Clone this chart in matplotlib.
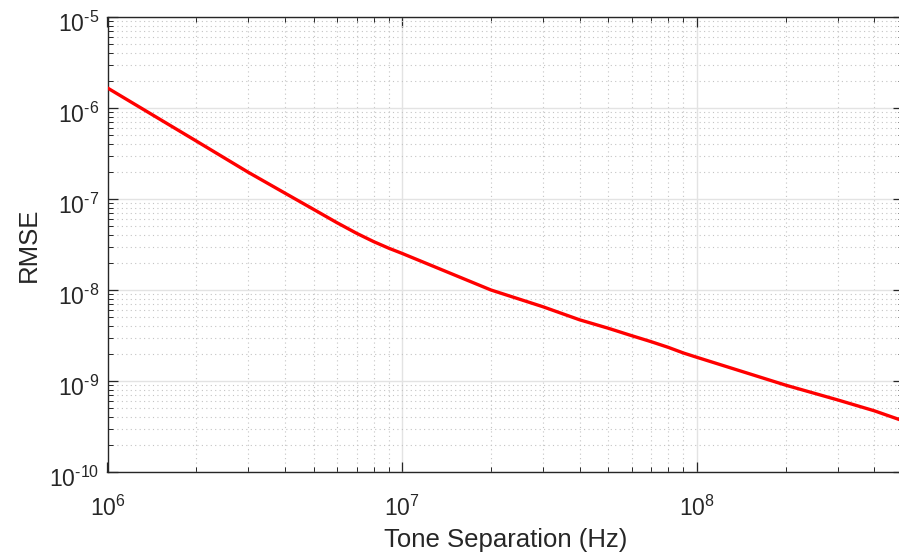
import matplotlib
matplotlib.use("Agg")
import math
import matplotlib.pyplot as plt
import matplotlib.transforms as mtransforms
from matplotlib.ticker import LogLocator, FixedLocator, FuncFormatter, NullFormatter

# Data
tone_sep_hz = [1e6, 2e6, 3e6, 4e6, 5e6, 6e6, 7e6, 8e6, 9e6,
               1e7, 2e7, 3e7, 4e7, 5e7, 6e7, 7e7, 8e7, 9e7,
               1e8, 2e8, 3e8, 4e8, 5e8]
rmse = [1.66e-6, 4.34e-7, 1.97e-7, 1.16e-7, 7.7e-8, 5.5e-8, 4.2e-8, 3.4e-8, 2.88e-8,
        2.52e-8, 1.0e-8, 6.55e-9, 4.7e-9, 3.8e-9, 3.15e-9, 2.7e-9, 2.34e-9, 2.03e-9,
        1.82e-9, 9.0e-10, 6.2e-10, 4.7e-10, 3.65e-10]
x_ticks = [1e6, 1e7, 1e8]
y_ticks = [1e-10, 1e-9, 1e-8, 1e-7, 1e-6, 1e-5]
x_label = "Tone Separation (Hz)"
y_label = "RMSE"

plt.rcParams['font.family'] = ['Liberation Sans', 'DejaVu Sans']
plt.rcParams['mathtext.fontset'] = 'custom'
plt.rcParams['mathtext.rm'] = 'Liberation Sans'
plt.rcParams['mathtext.default'] = 'regular'
plt.rcParams['axes.unicode_minus'] = False

txt = '#262626'
fig = plt.figure(figsize=(8.99, 5.55), dpi=100)
ax = fig.add_axes([107.5/899, 83/555, (903-107.5)/899, 455/555])

ax.loglog(tone_sep_hz, rmse, color='#ff0000', lw=2.4, zorder=3)
ax.set_xlim(1e6, 5e8)
ax.set_ylim(1e-10, 1e-5)

ax.xaxis.set_major_locator(FixedLocator(x_ticks))
ax.yaxis.set_major_locator(FixedLocator(y_ticks))
ax.xaxis.set_minor_locator(LogLocator(base=10, subs=range(2, 10), numticks=20))
ax.yaxis.set_minor_locator(LogLocator(base=10, subs=range(2, 10), numticks=20))


def _fmt(v, p):
    e = round(math.log10(v))
    s = str(e).replace('-', r'\text{-}')
    return r'$10^{%s}$' % s


fmt = FuncFormatter(_fmt)
ax.xaxis.set_major_formatter(fmt)
ax.yaxis.set_major_formatter(fmt)
ax.xaxis.set_minor_formatter(NullFormatter())
ax.yaxis.set_minor_formatter(NullFormatter())

ax.grid(True, which='major', color='#e3e3e3', lw=1.0, ls='-', zorder=0)
ax.grid(True, which='minor', color='#c4c4c4', lw=0.8, ls=(0, (1, 3)), zorder=0)

ax.tick_params(which='both', direction='in', top=True, right=True,
               colors=txt, labelcolor=txt, labelsize=16.5)
ax.tick_params(which='major', length=7, width=0.9)
ax.tick_params(which='minor', length=3.5, width=0.7)
ax.tick_params(axis='x', which='major', pad=17)
ax.tick_params(axis='y', which='major', pad=6)
for s in ax.spines.values():
    s.set_color(txt)
    s.set_linewidth(1.0)

# shift y tick labels slightly downward, as in the reference
off = mtransforms.ScaledTranslation(0, -5/100, fig.dpi_scale_trans)
for lab in ax.get_yticklabels():
    lab.set_transform(lab.get_transform() + off)

ax.set_xlabel(x_label, fontsize=18.5, color=txt, labelpad=5)
ax.set_ylabel(y_label, fontsize=18.5, color=txt, labelpad=6)

fig.savefig('out.png', dpi=100)
